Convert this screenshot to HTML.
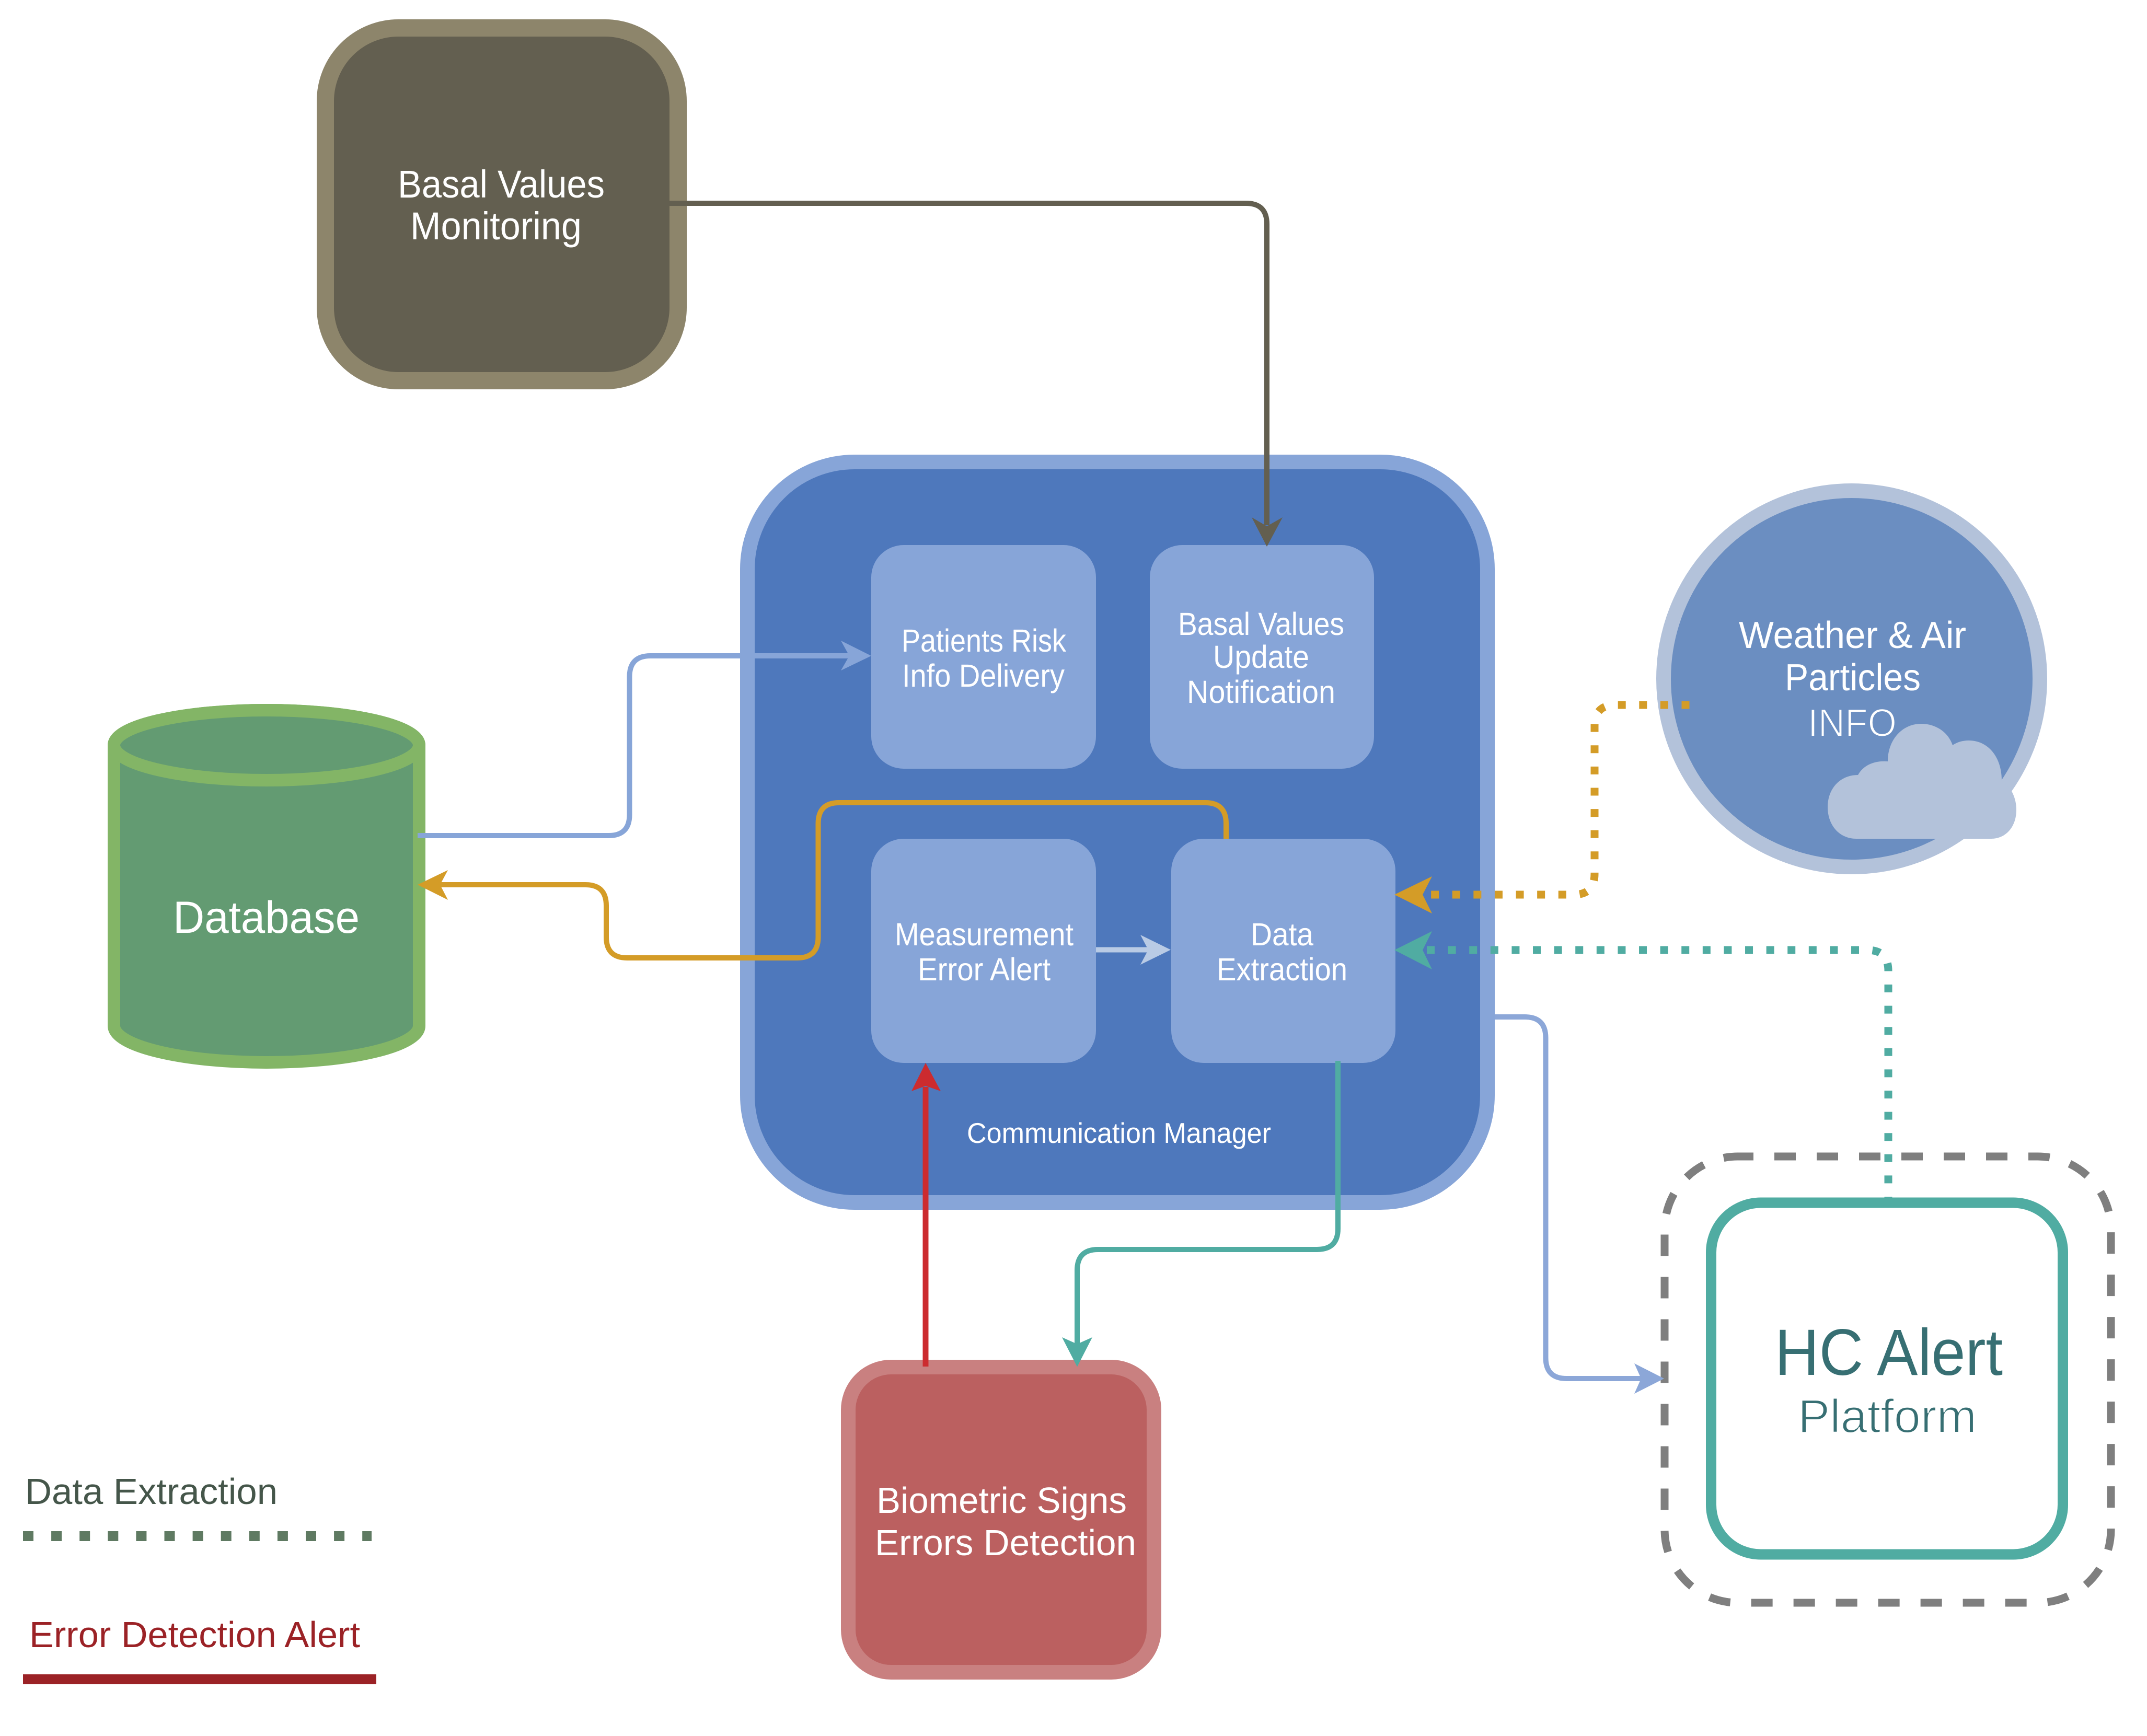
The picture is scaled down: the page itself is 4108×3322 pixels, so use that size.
<!DOCTYPE html>
<html lang="en">
<head>
<meta charset="utf-8">
<title>Communication Manager Diagram</title>
<style>
html,body{margin:0;padding:0;background:#fff}
svg{display:block}
text{font-family:"Liberation Sans",Arial,sans-serif;fill:#fff}
</style>
</head>
<body>
<svg xmlns="http://www.w3.org/2000/svg" width="4108" height="3322" viewBox="0 0 4108 3322">
<rect width="4108" height="3322" fill="#fff"/>

<!-- Basal Values Monitoring -->
<rect x="622.500" y="53.500" width="675" height="675" rx="140" ry="140" fill="#635F50" stroke="#8D856B" stroke-width="33"/>
<text x="761" y="378" font-size="74" textLength="396" lengthAdjust="spacingAndGlyphs">Basal Values</text>
<text x="785" y="458" font-size="74" textLength="328" lengthAdjust="spacingAndGlyphs">Monitoring</text>

<!-- Communication Manager -->
<rect x="1430" y="884" width="1416" height="1417" rx="205" ry="205" fill="#4E78BC" stroke="#87A5D8" stroke-width="28"/>
<rect x="1667" y="1043" width="430" height="428" rx="62" fill="#87A5D8"/>
<rect x="2200" y="1043" width="429" height="428" rx="62" fill="#87A5D8"/>
<rect x="1667" y="1605" width="430" height="429" rx="62" fill="#87A5D8"/>
<rect x="2241" y="1605" width="429" height="429" rx="62" fill="#87A5D8"/>

<text x="1725" y="1247" font-size="61" textLength="315" lengthAdjust="spacingAndGlyphs">Patients Risk</text>
<text x="1726" y="1314" font-size="61" textLength="311" lengthAdjust="spacingAndGlyphs">Info Delivery</text>
<text x="2254" y="1215" font-size="61" textLength="318" lengthAdjust="spacingAndGlyphs">Basal Values</text>
<text x="2321" y="1278" font-size="61" textLength="184" lengthAdjust="spacingAndGlyphs">Update</text>
<text x="2271" y="1345" font-size="61" textLength="284" lengthAdjust="spacingAndGlyphs">Notification</text>
<text x="1712" y="1809" font-size="61" textLength="342" lengthAdjust="spacingAndGlyphs">Measurement</text>
<text x="1756" y="1876" font-size="61" textLength="254" lengthAdjust="spacingAndGlyphs">Error Alert</text>
<text x="2393" y="1809" font-size="61" textLength="120" lengthAdjust="spacingAndGlyphs">Data</text>
<text x="2328" y="1876" font-size="61" textLength="250" lengthAdjust="spacingAndGlyphs">Extraction</text>
<text x="1850" y="2187" font-size="55" textLength="582" lengthAdjust="spacingAndGlyphs">Communication Manager</text>

<!-- Database cylinder -->
<path d="M218 1426 V1963 A292 70 0 0 0 802 1963 V1426 A292 67 0 0 0 218 1426 Z" fill="#639B72" stroke="#83B566" stroke-width="24"/>
<ellipse cx="510" cy="1426" rx="292" ry="67" fill="#639B72" stroke="#83B566" stroke-width="24"/>
<text x="331" y="1785" font-size="86" textLength="357" lengthAdjust="spacingAndGlyphs">Database</text>

<!-- Weather circle -->
<ellipse cx="3543" cy="1299" rx="360" ry="360" fill="#6B8EC1" stroke="#B3C2DA" stroke-width="28"/>
<path d="M3552 1605 C3520 1605 3497 1580 3497 1544 C3497 1510 3520 1483 3555 1483 C3565 1465 3585 1455 3612 1457 C3612 1415 3640 1385 3676 1385 C3705 1385 3728 1402 3736 1426 C3745 1420 3755 1417 3767 1417 C3805 1417 3830 1450 3830 1493 L3849 1514 C3855 1525 3858 1537 3858 1550 C3858 1582 3838 1605 3810 1605 Z" fill="#B3C2DA"/>
<text x="3327" y="1240" font-size="72" textLength="435" lengthAdjust="spacingAndGlyphs">Weather &amp; Air</text>
<text x="3415" y="1321" font-size="72" textLength="260" lengthAdjust="spacingAndGlyphs">Particles</text>
<text x="3459" y="1409" font-size="75" textLength="170" lengthAdjust="spacingAndGlyphs" stroke="#6B8EC1" stroke-width="2">INFO</text>

<!-- HC Alert -->
<rect x="3185" y="2213" width="854" height="854" rx="140" ry="140" fill="none" stroke="#7F7F7F" stroke-width="15" stroke-dasharray="41 40" stroke-dashoffset="11"/>
<rect x="3274" y="2301.500" width="673" height="673" rx="95" ry="95" fill="#fff" stroke="#50ACA2" stroke-width="20"/>
<text x="3396" y="2631" font-size="125" textLength="436" lengthAdjust="spacingAndGlyphs" style="fill:#376F73">HC Alert</text>
<text x="3440" y="2741" font-size="90" textLength="342" lengthAdjust="spacingAndGlyphs" style="fill:#376F73" stroke="#fff" stroke-width="2">Platform</text>

<!-- Biometric box -->
<rect x="1623" y="2616" width="585" height="584" rx="82" ry="82" fill="#BB6060" stroke="#C98080" stroke-width="28"/>
<text x="1677" y="2895" font-size="70" textLength="479" lengthAdjust="spacingAndGlyphs">Biometric Signs</text>
<text x="1674" y="2976" font-size="70" textLength="500" lengthAdjust="spacingAndGlyphs">Errors Detection</text>

<!-- Connectors -->
<g fill="none" stroke-width="10">
  <path d="M1281 389 H2384 Q2424 389 2424 429 V1005" stroke="#635F50"/>
  <path d="M799 1599 H1164.500 Q1204.500 1599 1204.500 1559 V1295 Q1204.500 1255 1244.500 1255 H1630" stroke="#87A5D8"/>
  <path d="M2346 1605 V1576 Q2346 1536 2306 1536 H1605.500 Q1565.500 1536 1565.500 1576 V1793 Q1565.500 1833 1525.500 1833 H1200 Q1160 1833 1160 1793 V1733 Q1160 1693 1120 1693 H840" stroke="#D49C27"/>
  <path d="M2097 1817.500 H2200" stroke="#B9CBE5"/>
  <path d="M1771 2615 V2080" stroke="#CC2B2F" stroke-width="11"/>
  <path d="M2560 2030 V2351 Q2560 2391 2520 2391 H2101 Q2061 2391 2061 2431 V2575" stroke="#50ACA2"/>
  <path d="M2860 1946 H2917.500 Q2957.500 1946 2957.500 1986 V2598 Q2957.500 2638 2997.500 2638 H3145" stroke="#8CA7D8"/>
</g>

<!-- Dotted connectors -->
<g fill="none" stroke-width="15">
  <path d="M3232.500 1349 H3091 Q3051 1349 3051 1389 V1672 Q3051 1712 3011 1712 H2715" stroke="#D49C27" stroke-dasharray="15 25.600"/>
  <path d="M3613 2305 V1858 Q3613 1818 3573 1818 H2715" stroke="#50ACA2" stroke-dasharray="15 25.600"/>
</g>

<!-- Arrowheads -->
<polygon points="2424,1046 2395,990 2424,1007 2454,990" fill="#635F50"/>
<polygon points="1667,1255 1609,1226 1625,1255 1609,1283" fill="#87A5D8"/>
<polygon points="799,1693 857,1665 842,1693 857,1722" fill="#D49C27"/>
<polygon points="2240,1817.500 2182,1789 2197,1817.500 2182,1846" fill="#B9CBE5"/>
<polygon points="1771,2034 1744,2088 1771,2078 1800,2088" fill="#CC2B2F"/>
<polygon points="2061,2615.500 2032,2559 2061,2572 2090,2559" fill="#50ACA2"/>
<polygon points="3184,2638 3127,2609 3140,2638 3127,2667" fill="#8CA7D8"/>
<polygon points="2668,1712 2740,1677 2722,1712 2740,1748" fill="#D49C27"/>
<polygon points="2668,1818 2740,1782 2722,1818 2740,1855" fill="#50ACA2"/>

<!-- Legend -->
<text x="48" y="2878" font-size="70" textLength="483" lengthAdjust="spacingAndGlyphs" style="fill:#45564A">Data Extraction</text>
<path d="M44 2939.500 H711" fill="none" stroke="#5F7A62" stroke-width="19" stroke-dasharray="20 34.100"/>
<text x="56" y="3152" font-size="70" textLength="633" lengthAdjust="spacingAndGlyphs" style="fill:#9B2226">Error Detection Alert</text>
<rect x="44" y="3204" width="676" height="19" fill="#9B2226"/>
</svg>
</body>
</html>
